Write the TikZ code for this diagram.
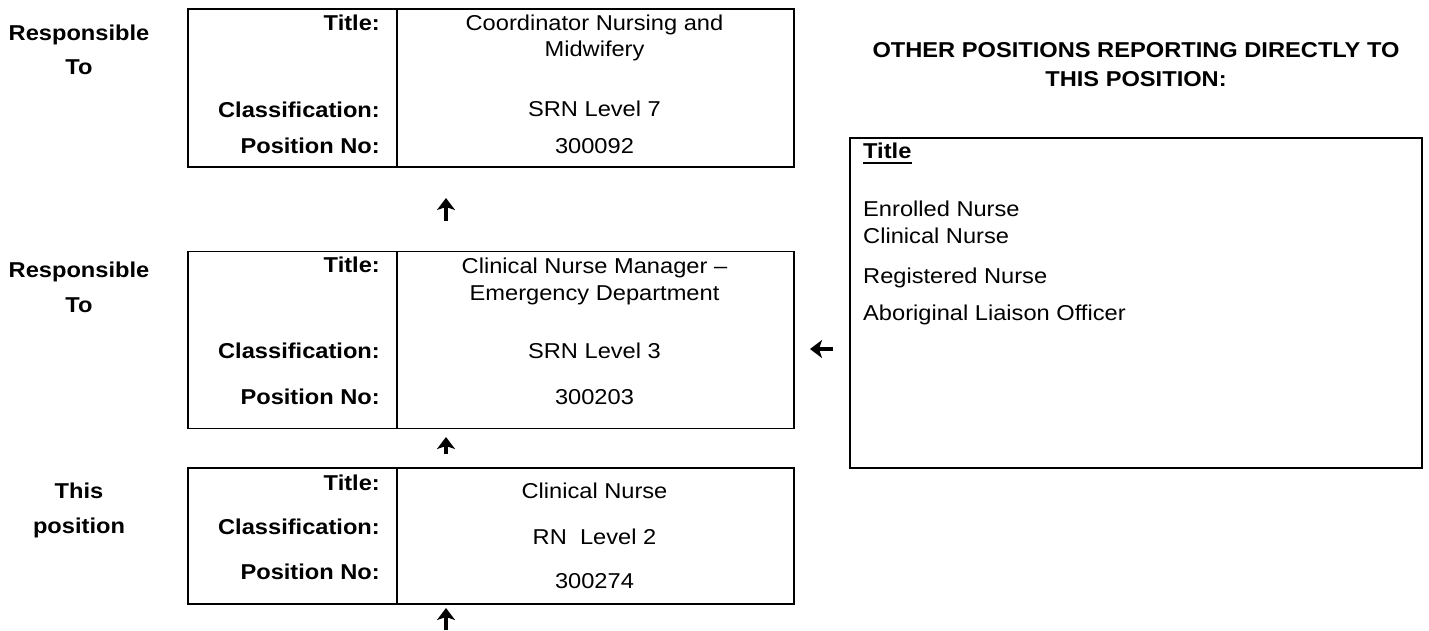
\documentclass[tikz,border=0pt]{standalone}
\usepackage{fontspec}
\setmainfont[FakeStretch=1.1]{Liberation Sans}
\usetikzlibrary{arrows.meta}
\begin{document}
\begin{tikzpicture}[x=1pt,y=-1pt,
  cell/.style={draw, line width=1.6pt, inner sep=0pt, anchor=north west},
  lab/.style={font=\fontsize{21.5}{26}\selectfont\bfseries, anchor=base east, inner sep=0pt},
  val/.style={font=\fontsize{21.5}{26}\selectfont, anchor=base, inner sep=0pt},
  side/.style={font=\fontsize{21.5}{26}\selectfont\bfseries, anchor=base, inner sep=0pt},
  item/.style={font=\fontsize{21.5}{26}\selectfont, anchor=base west, inner sep=0pt},
  arr/.style={line width=4pt, -{Stealth[length=12pt,width=18pt,inset=3pt]}}]
\useasboundingbox (0,0) rectangle (1429,630);

% ---- box 1
\node[cell, minimum width=209pt, minimum height=158pt] (b1l) at (187,8) {};
\node[cell, minimum width=397pt, minimum height=158pt] (b1r) at (396,8) {};
\node[lab] (b1t) at (380,30) {Title:};
\node[lab] (b1c) at (380,117) {Classification:};
\node[lab] (b1p) at (380,153) {Position No:};
\node[val] (b1v1) at (594.5,30) {Coordinator Nursing and};
\node[val] (b1v2) at (594.5,56) {Midwifery};
\node[val] (b1v3) at (594.5,116) {SRN Level 7};
\node[val] (b1v4) at (594.5,153) {300092};

% ---- box 2
\node[cell, minimum width=209pt, minimum height=177pt] (b2l) at (187,250.5) {};
\node[cell, minimum width=397pt, minimum height=177pt] (b2r) at (396,250.5) {};
\node[lab] (b2t) at (380,272) {Title:};
\node[lab] (b2c) at (380,358) {Classification:};
\node[lab] (b2p) at (380,404) {Position No:};
\node[val] (b2v1) at (594.5,273) {Clinical Nurse Manager –};
\node[val] (b2v2) at (594.5,300) {Emergency Department};
\node[val] (b2v3) at (594.5,358) {SRN Level 3};
\node[val] (b2v4) at (594.5,404) {300203};

% ---- box 3
\node[cell, minimum width=209pt, minimum height=136pt] (b3l) at (187,467) {};
\node[cell, minimum width=397pt, minimum height=136pt] (b3r) at (396,467) {};
\node[lab] (b3t) at (380,490) {Title:};
\node[lab] (b3c) at (380,534.5) {Classification:};
\node[lab] (b3p) at (380,579.5) {Position No:};
\node[val] (b3v1) at (594.5,498) {Clinical Nurse};
\node[val] (b3v2) at (594.5,544) {RN~ Level 2};
\node[val] (b3v3) at (594.5,588) {300274};

% ---- left labels
\node[side] (s1a) at (79,40) {Responsible};
\node[side] (s1b) at (79,74) {To};
\node[side] (s2a) at (79,277) {Responsible};
\node[side] (s2b) at (79,312) {To};
\node[side] (s3a) at (79,498) {This};
\node[side] (s3b) at (79,533) {position};

% ---- right side
\node[side] (h1) at (1136,57) {OTHER POSITIONS REPORTING DIRECTLY TO};
\node[side] (h2) at (1136,86) {THIS POSITION:};
\node[cell, minimum width=572pt, minimum height=330pt] (other) at (849,137) {};
\node[item, font=\fontsize{21.5}{26}\selectfont\bfseries] (ot) at (863,158) {Title};
\draw[line width=2.2pt] ([yshift=-5pt]ot.base west) -- ([yshift=-5pt]ot.base east);
\node[item] (o1) at (863,216.5) {Enrolled Nurse};
\node[item] (o2) at (863,243.5) {Clinical Nurse};
\node[item] (o3) at (863,283.5) {Registered Nurse};
\node[item] (o4) at (863,320.5) {Aboriginal Liaison Officer};

% ---- arrows
\coordinate (a1s) at (446,221); \coordinate (a1e) at (446,198);
\coordinate (a2s) at (446,454); \coordinate (a2e) at (446,437);
\coordinate (a3s) at (446,630); \coordinate (a3e) at (446,608);
\coordinate (a4s) at (833,349); \coordinate (a4e) at (810,349);
\draw[arr] (a1s) -- (a1e);
\draw[arr] (a2s) -- (a2e);
\draw[arr] (a3s) -- (a3e);
\draw[arr] (a4s) -- (a4e);
\end{tikzpicture}
\end{document}
